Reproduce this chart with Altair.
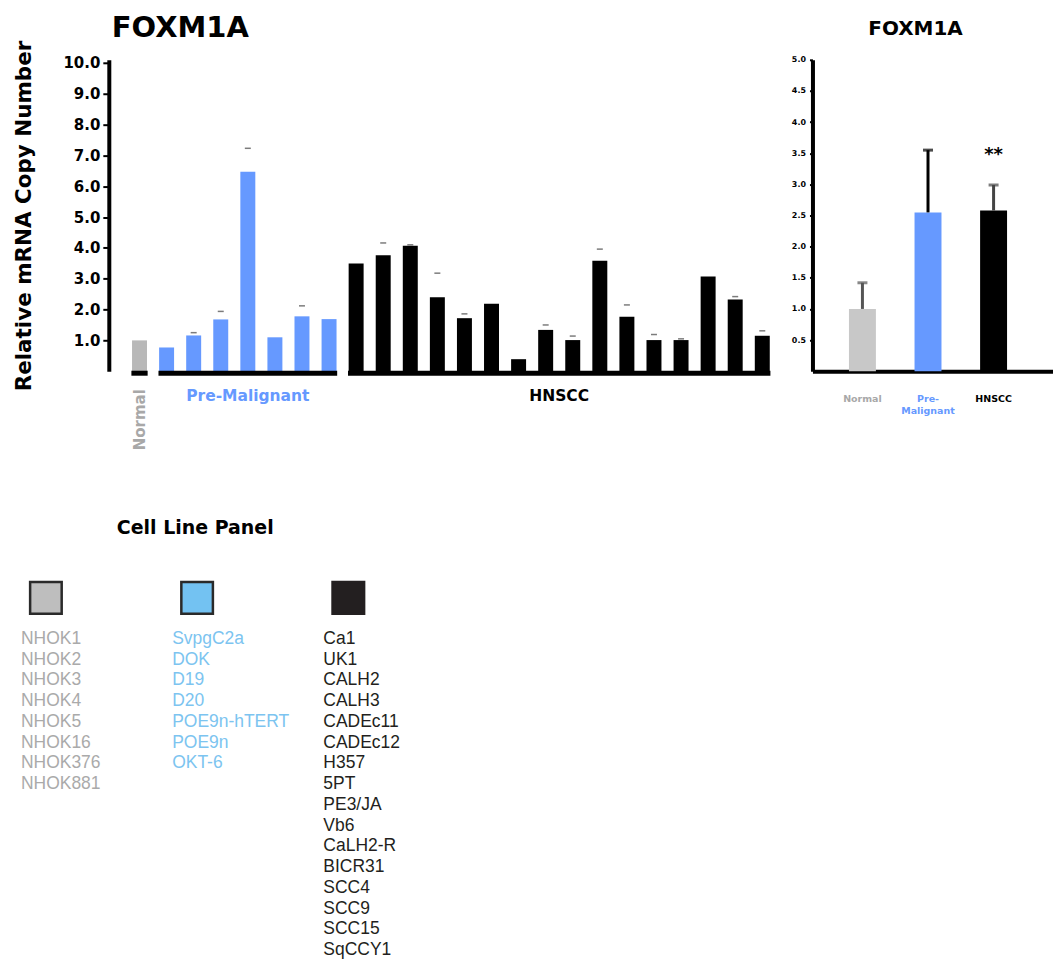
import altair as alt
import pandas as pd

# ---------------- data ----------------
groups = ["Normal", "Pre-Malignant", "HNSCC"]
group_counts = [1, 7, 16]
group_bar_colors = ["#b8b8b8", "#6699ff", "#000000"]
group_label_colors = ["#a8a8a8", "#6699ff", "#000000"]

left_values = [1.00,
               0.77, 1.16, 1.68, 6.47, 1.10, 1.78, 1.69,
               3.49, 3.76, 4.07, 2.40, 1.72, 2.19, 0.39, 1.34,
               1.01, 3.58, 1.77, 1.01, 1.01, 3.07, 2.33, 1.15]
left_err_tops = [None,
                 None, 1.25, 1.94, 7.23, None, 2.12, None,
                 None, 4.16, 4.10, 3.18, 1.86, None, None, 1.50,
                 1.14, 3.96, 2.15, 1.19, 1.05, None, 2.42, 1.31]

right_values = [1.00, 2.55, 2.58]
right_err_tops = [1.42, 3.55, 2.99]
right_bar_colors = ["#c8c8c8", "#6699ff", "#000000"]
right_err_colors = ["#555555", "#000000", "#444444"]
right_labels = ["Normal", "Pre-\nMalignant", "HNSCC"]
right_signif = ["", "", "**"]

left_y_ticks = [1, 2, 3, 4, 5, 6, 7, 8, 9, 10]
right_y_ticks = [0.5, 1.0, 1.5, 2.0, 2.5, 3.0, 3.5, 4.0, 4.5, 5.0]

normal_lines = ["NHOK1", "NHOK2", "NHOK3", "NHOK4", "NHOK5", "NHOK16", "NHOK376", "NHOK881"]
premal_lines = ["SvpgC2a", "DOK", "D19", "D20", "POE9n-hTERT", "POE9n", "OKT-6"]
hnscc_lines = ["Ca1", "UK1", "CALH2", "CALH3", "CADEc11", "CADEc12", "H357", "5PT",
               "PE3/JA", "Vb6", "CaLH2-R", "BICR31", "SCC4", "SCC9", "SCC15", "SqCCY1"]
legend_text_colors = ["#aaaaaa", "#7cc4f0", "#231f20"]
legend_fills = ["#bebebe", "#73c2f2", "#231f20"]
legend_strokes = ["#2a2a2a", "#2a2a2a", "#231f20"]

FONT = "DejaVu Sans"

# ---------------- left chart ----------------
rows = []
i = 0
for g, n, c in zip(groups, group_counts, group_bar_colors):
    for _ in range(n):
        rows.append({"idx": i, "group": g, "value": left_values[i],
                     "err": left_err_tops[i], "color": c})
        i += 1
left_df = pd.DataFrame(rows)
err_df = left_df.dropna(subset=["err"])

grp_rows = []
start = 0
for g, n, c in zip(groups, group_counts, group_label_colors):
    first, last = start, start + n - 1
    grp_rows.append({"group": g, "x1": first - 0.3, "x2": last + 0.3,
                     "xc": (first + last) / 2, "lc": c, "zero": 0})
    start += n
grp_df = pd.DataFrame(grp_rows)

lx = alt.Scale(domain=[-0.95, 23.6], nice=False, zero=False)
ly = alt.Scale(domain=[0, 10.1], nice=False)
ly_axis = alt.Axis(values=left_y_ticks, format=".1f", grid=False,
                   labelOverlap=False, labelBound=False,
                   domainWidth=4, domainColor="#000", tickWidth=2,
                   tickColor="#000", tickSize=6, labelFontSize=15,
                   labelFontWeight="bold", labelFont=FONT, labelColor="#000",
                   labelPadding=3,
                   title="Relative mRNA Copy Number", titleFontSize=21.5,
                   titleFont=FONT, titleFontWeight="bold", titleColor="#000",
                   titlePadding=27)

bars_left = alt.Chart(left_df).mark_bar(size=15).encode(
    x=alt.X("idx:Q", scale=lx, axis=None),
    y=alt.Y("value:Q", scale=ly, axis=ly_axis),
    color=alt.Color("color:N", scale=None),
)
err_left = alt.Chart(err_df).mark_tick(
    orient="horizontal", size=6, thickness=1.5, color="#444444"
).encode(x=alt.X("idx:Q", scale=lx, axis=None),
         y=alt.Y("err:Q", scale=ly, axis=ly_axis))

base_grp = alt.Chart(grp_df)
underline = base_grp.mark_rule(strokeWidth=5, color="#000", yOffset=2).encode(
    x=alt.X("x1:Q", scale=lx, axis=None), x2="x2:Q",
    y=alt.Y("zero:Q", scale=ly, axis=ly_axis)
)
normal_lbl = base_grp.transform_filter(alt.datum.group == "Normal").mark_text(
    angle=270, align="right", baseline="middle", fontSize=15, font=FONT,
    fontWeight="bold", yOffset=18
).encode(x=alt.X("xc:Q", scale=lx, axis=None),
         y=alt.Y("zero:Q", scale=ly, axis=ly_axis), text="group:N",
         color=alt.Color("lc:N", scale=None))
other_lbl = base_grp.transform_filter(alt.datum.group != "Normal").mark_text(
    align="center", baseline="middle", fontSize=15.5, font=FONT,
    fontWeight="bold", yOffset=25
).encode(x=alt.X("xc:Q", scale=lx, axis=None),
         y=alt.Y("zero:Q", scale=ly, axis=ly_axis), text="group:N",
         color=alt.Color("lc:N", scale=None))

left = alt.layer(bars_left, err_left, underline, normal_lbl, other_lbl).properties(
    width=676, height=312,
    title=alt.Title("FOXM1A", anchor="start", frame="group", dx=3, fontSize=29,
                    font=FONT, fontWeight="bold", color="#000", offset=-3),
)

# ---------------- right chart ----------------
right_df = pd.DataFrame({
    "idx": list(range(3)), "group": groups, "value": right_values,
    "err": right_err_tops, "bc": right_bar_colors, "ec": right_err_colors,
    "label": right_labels, "lc": group_label_colors, "sig": right_signif,
    "zero": [0, 0, 0],
})
rx = alt.Scale(domain=[-0.686, 2.83], nice=False, zero=False)
ry = alt.Scale(domain=[0, 5.0], nice=False)
rx_axis = alt.Axis(domainWidth=4, domainColor="#000", ticks=False,
                   labels=False, grid=False, title=None)
ry_axis = alt.Axis(values=right_y_ticks, format=".1f", grid=False,
                   labelOverlap=False, labelBound=False,
                   domainWidth=4, domainColor="#000", tickWidth=2,
                   tickColor="#000", tickSize=3, labelFontSize=8,
                   labelFontWeight="bold", labelFont=FONT,
                   labelColor="#000", labelPadding=4, title=None)
base_r = alt.Chart(right_df)
bars_r = base_r.mark_bar(size=27).encode(
    x=alt.X("idx:Q", scale=rx, axis=rx_axis),
    y=alt.Y("value:Q", scale=ry, axis=ry_axis),
    color=alt.Color("bc:N", scale=None),
)
err_r = base_r.mark_rule(strokeWidth=3).encode(
    x=alt.X("idx:Q", scale=rx, axis=rx_axis),
    y=alt.Y("value:Q", scale=ry, axis=ry_axis), y2="err:Q",
    color=alt.Color("ec:N", scale=None),
)
cap_r = base_r.mark_tick(orient="horizontal", size=10, thickness=3).encode(
    x=alt.X("idx:Q", scale=rx, axis=rx_axis),
    y=alt.Y("err:Q", scale=ry, axis=ry_axis),
    color=alt.Color("ec:N", scale=None),
)
sig_r = base_r.mark_text(fontSize=18, font=FONT, fontWeight="bold",
                         baseline="middle", dy=-30, color="#000").encode(
    x=alt.X("idx:Q", scale=rx, axis=rx_axis),
    y=alt.Y("err:Q", scale=ry, axis=ry_axis), text="sig:N"
)
lbl_r = base_r.mark_text(fontSize=9.5, font=FONT, fontWeight="bold",
                         baseline="middle", lineBreak="\n", yOffset=28).encode(
    x=alt.X("idx:Q", scale=rx, axis=rx_axis),
    y=alt.Y("zero:Q", scale=ry, axis=ry_axis), text="label:N",
    color=alt.Color("lc:N", scale=None),
)
right = alt.layer(bars_r, err_r, cap_r, sig_r, lbl_r).properties(
    width=241, height=312,
    title=alt.Title("FOXM1A", anchor="start", frame="group", dx=56, fontSize=20,
                    font=FONT, fontWeight="bold", color="#000", offset=17),
)

# ---------------- legend panel ----------------
leg_rows = []
for g, (lines, col) in enumerate(zip([normal_lines, premal_lines, hnscc_lines],
                                     legend_text_colors)):
    for r, t in enumerate(lines):
        leg_rows.append({"g": g, "row": r, "label": t, "color": col})
leg_df = pd.DataFrame(leg_rows)
sq_df = pd.DataFrame({"g": [0, 1, 2], "row": [0, 0, 0],
                      "fill": legend_fills, "stroke": legend_strokes})

gx = alt.Scale(domain=[0.581, 2.581], nice=False, zero=False)
gy = alt.Scale(domain=[-11.5, 15], nice=False, zero=False, reverse=True)

leg_text = alt.Chart(leg_df).mark_text(
    align="left", baseline="middle", fontSize=17.5, font="Liberation Sans"
).encode(
    x=alt.X("g:Q", scale=gx, axis=None),
    y=alt.Y("row:Q", scale=gy, axis=None),
    text="label:N",
    color=alt.Color("color:N", scale=None),
)
leg_sq = alt.Chart(sq_df).mark_square(size=1000, xOffset=25, yOffset=-41,
                                      strokeWidth=2.5, opacity=1).encode(
    x=alt.X("g:Q", axis=None),
    y=alt.Y("row:Q", axis=None),
    fill=alt.Fill("fill:N", scale=None),
    stroke=alt.Stroke("stroke:N", scale=None),
)
legend = alt.layer(leg_sq, leg_text).properties(
    width=303, height=551,
    title=alt.Title("Cell Line Panel", anchor="start", frame="group", dx=8,
                    fontSize=19, font=FONT, fontWeight="bold", color="#000",
                    offset=-138),
)

chart = alt.concat(left, right, legend, columns=2, spacing=29,
                   bounds="flush").properties(
    padding={"left": 5, "top": 5, "right": 0, "bottom": 0}
).configure_view(stroke=None).configure_axis(labelOverlap=False)

chart.save("out.html", embed_options={"renderer": "svg", "actions": False})
